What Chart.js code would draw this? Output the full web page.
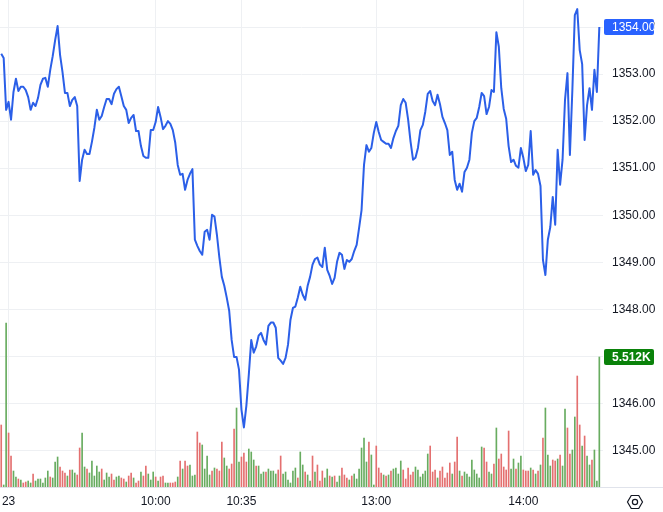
<!DOCTYPE html>
<html><head><meta charset="utf-8">
<script src="https://cdn.jsdelivr.net/npm/chart.js@4.4.1/dist/chart.umd.min.js"></script>
<style>html,body{margin:0;padding:0;background:#fff;}#wrap{width:663px;height:512px;position:relative;}</style>
</head><body><div id="wrap"><canvas id="c" width="663" height="512"></canvas></div>
<script>
// one value per minute bar
const price = [
1353.43,1353.34,1352.24,1352.41,1352.03,1352.62,1352.90,1352.64,1352.73,1352.73,
1352.66,1352.51,1352.24,1352.39,1352.32,1352.49,1352.77,1352.90,1352.92,1352.73,
1353.09,1353.38,1353.72,1354.02,1353.41,1353.04,1352.60,1352.60,1352.32,1352.45,
1352.51,1352.32,1350.73,1351.18,1351.39,1351.30,1351.30,1351.56,1351.86,1352.24,
1352.03,1352.11,1352.30,1352.47,1352.47,1352.36,1352.58,1352.68,1352.73,1352.53,
1352.32,1352.24,1351.96,1352.07,1352.13,1351.79,1351.79,1351.47,1351.26,1351.22,
1351.22,1351.81,1351.81,1351.98,1352.30,1352.09,1351.83,1351.90,1352.00,1351.94,
1351.81,1351.54,1351.07,1350.86,1350.88,1350.54,1350.75,1350.88,1350.98,1349.48,
1349.35,1349.24,1349.16,1349.65,1349.69,1349.48,1350.01,1349.97,1349.58,1349.10,
1348.69,1348.50,1348.25,1347.97,1347.35,1346.99,1346.99,1346.72,1345.87,1345.49,
1345.95,1346.61,1347.35,1347.08,1347.21,1347.44,1347.50,1347.35,1347.25,1347.65,
1347.72,1347.72,1347.61,1346.97,1346.91,1346.84,1346.97,1347.25,1347.78,1348.03,
1348.06,1348.25,1348.48,1348.31,1348.20,1348.50,1348.69,1348.95,1349.07,1349.10,
1348.95,1348.90,1349.31,1348.84,1348.71,1348.54,1348.67,1349.01,1349.20,1349.16,
1348.86,1349.05,1349.01,1349.07,1349.24,1349.37,1349.73,1350.11,1351.07,1351.49,
1351.35,1351.43,1351.75,1351.98,1351.77,1351.60,1351.56,1351.52,1351.52,1351.43,
1351.64,1351.79,1351.90,1352.34,1352.47,1352.39,1352.03,1351.56,1351.18,1351.22,
1351.43,1351.81,1351.92,1352.20,1352.58,1352.64,1352.43,1352.34,1352.56,1352.36,
1352.09,1351.96,1351.81,1351.28,1351.35,1350.75,1350.54,1350.67,1350.50,1350.92,
1351.01,1351.18,1351.75,1352.00,1352.07,1352.30,1352.60,1352.53,1352.15,1352.30,
1352.66,1352.62,1353.89,1353.58,1352.70,1352.26,1352.05,1351.47,1351.13,1351.18,
1351.05,1351.01,1351.43,1351.22,1350.94,1351.07,1351.79,1350.86,1350.96,1350.88,
1350.62,1349.05,1348.73,1349.48,1349.75,1350.39,1349.80,1351.39,1350.65,1351.18,
1352.45,1353.02,1351.28,1352.66,1354.25,1354.38,1353.51,1353.21,1351.60,1352.34,
1352.70,1352.24,1353.09,1352.62,1354.00
];
const volume = [
2629,85,6954,2290,1314,678,424,339,297,170,
212,254,170,551,254,339,339,170,382,678,
424,382,1060,1272,848,678,594,466,721,721,
594,509,1654,2290,848,763,594,1102,466,890,
636,763,297,594,424,551,297,424,466,382,
339,212,466,594,382,170,254,636,466,890,
551,297,
636,424,254,424,466,170,170,170,170,212,
424,1102,763,1102,890,933,466,509,2332,1866,
1781,763,1314,509,678,806,763,678,1908,1230,
890,763,975,2459,3350,1060,1272,1442,1060,1611,
1484,1145,890,890,551,636,636,763,678,678,
551,721,1314,551,636,297,170,678,806,382,
1484,
933,636,509,254,1314,636,933,254,678,382,
763,466,424,466,212,466,806,509,382,297,
466,551,339,763,1654,2078,1060,1908,1357,85,
1738,806,594,509,466,509,678,763,806,551,
1102,721,339,806,509,636,848,721,424,551,
678,1399,1738,636,721,382,678,848,382,594,
1018,551,1060,2120,678,466,636,551,424,1145,
721,551,382,1696,1654,1060,636,551,975,2502,
1187,1399,848,721,2374,763,1187,763,1018,1314,
721,678,678,806,721,551,678,933,2078,3350,
1357,890,1145,1102,1187,1357,890,3307,2502,1399,
1569,2968,4706,2629,1738,2162,1314,933,1145,1569,
254,5512
];
// 1 = up (green) bar, 0 = down (red) bar
const volUp = [
0,1,1,0,0,1,1,0,1,0, 0,1,1,0,1,1,1,1,1,1, 0,1,1,1,0,0,0,1,0,1, 1,0,0,1,1,0,1,1,1,1, 1,0,1,1,1,0,0,1,1,0, 0,1,0,0,1,0,0,1,0,0, 1,1,
1,0,1,0,0,1,1,0,0,0, 1,0,1,0,0,1,1,1,0,0, 1,1,1,1,0,1,0,0,0,1, 1,0,0,0,1,1,0,0,0,1, 1,1,0,1,1,1,0,1,1,1, 1,0,0,1,1,1,1,1,1,0, 1,
1,0,1,1,0,1,0,0,0,1, 1,0,1,0,1,1,0,0,0,1, 0,1,1,1,1,1,1,0,1,1, 0,0,0,1,0,1,0,1,1,1, 1,0,0,0,0,0,1,1,1,1, 1,1,0,0,0,1,0,0,0,0,
0,1,0,0,1,0,1,1,1,1, 1,1,1,1,0,0,1,1,0,1, 0,0,0,0,0,1,1,0,1,1, 0,0,0,1,0,1,0,1,0,1, 1,1,0,0,1,0,1,1,0,0, 1,1,0,0,1,0,1,1,0,1, 1,1
];
const xTickAt = [3, 63, 98, 153, 213];
const xTickLabels = ['23', '10:00', '10:35', '13:00', '14:00'];
const yTicks = [1345, 1346, 1347, 1348, 1349, 1350, 1351, 1352, 1353, 1354];
const yHiddenTick = 1347;
const priceMin = 1344.225, priceMax = 1354.574;
const volMax = 20649;

const FONT = "'Liberation Sans', Arial, sans-serif";
const GREEN = 'rgb(104,172,96)', RED = 'rgb(228,112,112)';
const GRID = '#eef0f3';
const TEXT = '#131722';

function badge(ctx, text, x, y, bg, weight) {
  ctx.fillStyle = bg;
  ctx.beginPath();
  if (ctx.roundRect) ctx.roundRect(x, y - 8, 50, 16, 2); else ctx.rect(x, y - 8, 50, 16);
  ctx.fill();
  ctx.fillStyle = '#ffffff';
  ctx.font = weight + ' 12px ' + FONT;
  ctx.textAlign = 'left';
  ctx.textBaseline = 'middle';
  ctx.fillText(text, x + 8, y + 0.5);
}

const overlay = {
  id: 'overlay',
  afterDraw(chart) {
    const { ctx, chartArea, scales } = chart;
    ctx.save();
    ctx.strokeStyle = '#e0e3eb';
    ctx.lineWidth = 1;
    ctx.beginPath();
    ctx.moveTo(0, Math.round(chartArea.bottom) + 0.5);
    ctx.lineTo(chart.width, Math.round(chartArea.bottom) + 0.5);
    ctx.stroke();
    const lastP = price[price.length - 1];
    badge(ctx, lastP.toFixed(2), chartArea.right + 1, scales.y.getPixelForValue(lastP), '#2962ff', 'normal');
    const lastV = volume[volume.length - 1];
    badge(ctx, (lastV / 1000).toFixed(3) + 'K', chartArea.right + 1, scales.yv.getPixelForValue(lastV), '#0a820a', 'bold');
    // settings icon
    const cx = 635, cy = 502, r = 7.5;
    ctx.strokeStyle = TEXT;
    ctx.lineWidth = 1.2;
    ctx.beginPath();
    for (let k = 0; k < 6; k++) {
      const a = Math.PI / 3 * k;
      const px = cx + r * Math.cos(a), py = cy + r * Math.sin(a);
      if (k === 0) ctx.moveTo(px, py); else ctx.lineTo(px, py);
    }
    ctx.closePath();
    ctx.stroke();
    ctx.beginPath();
    ctx.arc(cx, cy, 2.6, 0, Math.PI * 2);
    ctx.stroke();
    ctx.restore();
  }
};

new Chart(document.getElementById('c').getContext('2d'), {
  type: 'bar',
  data: {
    datasets: [
      {
        type: 'line',
        data: price.map((p, i) => ({ x: i, y: p })),
        borderColor: '#2b5fe8',
        borderWidth: 2,
        pointRadius: 0,
        tension: 0,
        borderJoinStyle: 'round',
        yAxisID: 'y',
        order: 0
      },
      {
        type: 'bar',
        data: volume.map((v, i) => ({ x: i, y: v })),
        backgroundColor: volUp.map(u => u ? GREEN : RED),
        barThickness: 1,
        yAxisID: 'yv',
        order: 1
      }
    ]
  },
  options: {
    responsive: false,
    animation: false,
    layout: { padding: 0 },
    plugins: { legend: { display: false }, tooltip: { enabled: false } },
    scales: {
      x: {
        type: 'linear',
        offset: false,
        min: -0.5,
        max: price.length + 0.5,
        afterBuildTicks: s => { s.ticks = xTickAt.map(v => ({ value: v })); },
        afterFit: s => { s.height = 25; s.paddingLeft = 0; s.paddingRight = 0; },
        grid: { color: GRID, drawTicks: false, offset: false },
        border: { display: false },
        ticks: {
          autoSkip: false, maxRotation: 0, padding: 7, color: TEXT,
          font: { family: FONT, size: 12 },
          callback: v => { const k = xTickAt.indexOf(v); return k >= 0 ? xTickLabels[k] : ''; }
        }
      },
      y: {
        position: 'right',
        min: priceMin,
        max: priceMax,
        afterBuildTicks: s => { s.ticks = yTicks.map(v => ({ value: v })); },
        afterFit: s => { s.width = 60; s.paddingTop = 0; s.paddingBottom = 0; },
        grid: { color: GRID, drawTicks: false },
        border: { display: false },
        ticks: {
          padding: 9, color: TEXT,
          font: { family: FONT, size: 12 },
          callback: v => v === yHiddenTick ? '' : v.toFixed(2)
        }
      },
      yv: { display: false, min: 0, max: volMax }
    }
  },
  plugins: [overlay]
});
</script>
</body></html>
